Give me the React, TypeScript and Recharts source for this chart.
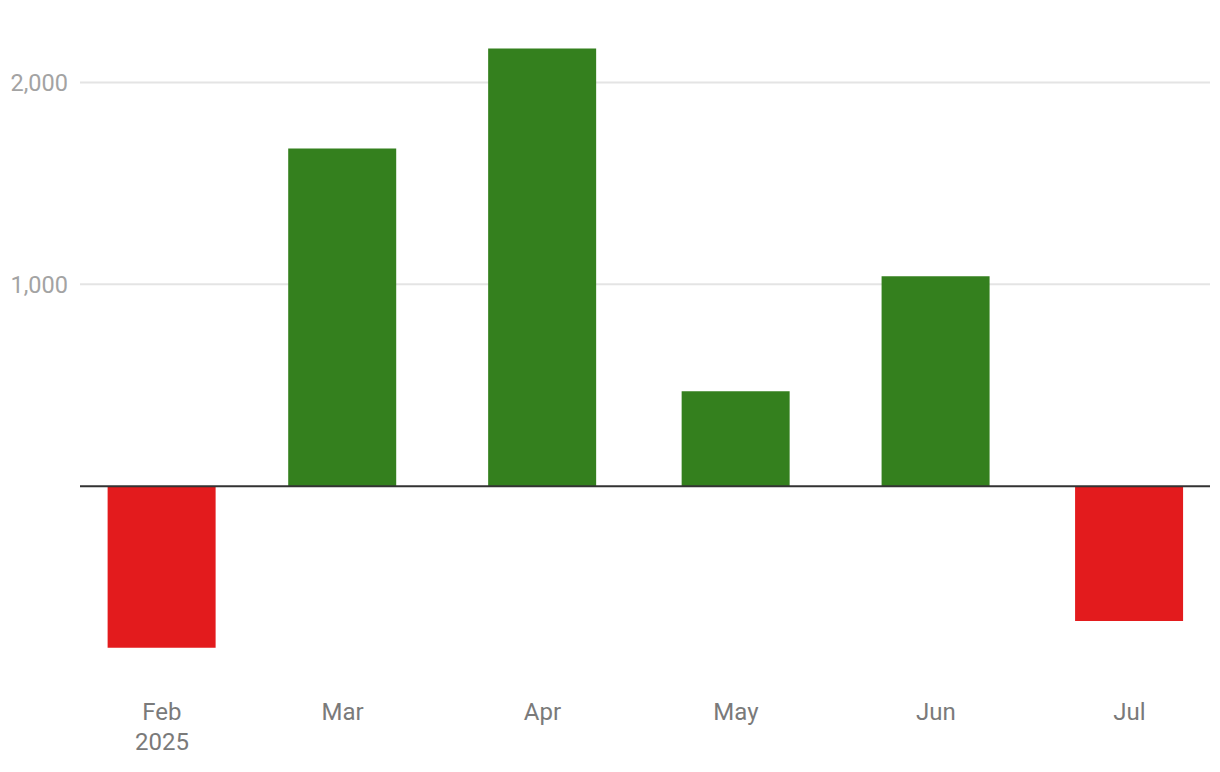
import { BarChart, Bar, XAxis, YAxis, CartesianGrid, ReferenceLine, Cell } from 'recharts';

// monthly net change, first of each month
const monthDates = ['2025-02-01', '2025-03-01', '2025-04-01', '2025-05-01', '2025-06-01', '2025-07-01'];
const monthLabels = ['Feb', 'Mar', 'Apr', 'May', 'Jun', 'Jul'];
const netChange = [-800, 1673, 2168, 470, 1040, -668];
const yTicks = [1000, 2000];

const DAY = 24 * 60 * 60 * 1000;
const stamps = monthDates.map((d) => Date.parse(d + 'T00:00:00Z'));
const data = stamps.map((t, i) => ({ t, value: netChange[i] }));

// a little room either side of the first and last month
const xDomain = [stamps[0] - 12.7 * DAY, stamps[stamps.length - 1] + 12.5 * DAY];

const GREEN = '#34801e';
const RED = '#e31b1d';

function MonthTick(props: any) {
  const { x, y, payload } = props;
  const i = stamps.indexOf(payload.value);
  return (
    <text x={x} textAnchor="middle" fill="#7a7a7a" fontSize={24} fontFamily="Roboto">
      <tspan x={x} y={y + 32}>{monthLabels[i]}</tspan>
      {i === 0 && (
        <tspan x={x} y={y + 62}>
          {new Date(stamps[0]).getUTCFullYear()}
        </tspan>
      )}
    </text>
  );
}

function ValueTick(props: any) {
  const { y, payload } = props;
  return (
    <text x={68} y={y + 8.5} textAnchor="end" fill="#a3a3a3" fontSize={23.5} fontFamily="Roboto">
      {payload.value.toLocaleString('en-US')}
    </text>
  );
}

export default function App() {
  return (
    <div style={{ position: 'absolute', left: 0, top: 0, background: '#fff' }}>
      <BarChart
        width={1220}
        height={772}
        data={data}
        margin={{ top: 42, right: 10, bottom: 0, left: 0 }}
      >
        <CartesianGrid
          vertical={false}
          horizontalValues={yTicks}
          stroke="#e4e4e4"
          strokeWidth={2}
        />
        <XAxis
          dataKey="t"
          type="number"
          scale="linear"
          domain={xDomain}
          ticks={stamps}
          interval={0}
          height={84}
          axisLine={false}
          tickLine={false}
          tickSize={0}
          tickMargin={0}
          tick={<MonthTick />}
          allowDataOverflow
        />
        <YAxis
          type="number"
          domain={[-1000, 2200]}
          ticks={yTicks}
          width={80}
          axisLine={false}
          tickLine={false}
          tick={<ValueTick />}
          allowDataOverflow
        />
        <Bar dataKey="value" barSize={108} isAnimationActive={false}>
          {data.map((d, i) => (
            <Cell key={i} fill={d.value >= 0 ? GREEN : RED} />
          ))}
        </Bar>
        <ReferenceLine y={0} stroke="#333" strokeWidth={2} />
      </BarChart>
    </div>
  );
}
